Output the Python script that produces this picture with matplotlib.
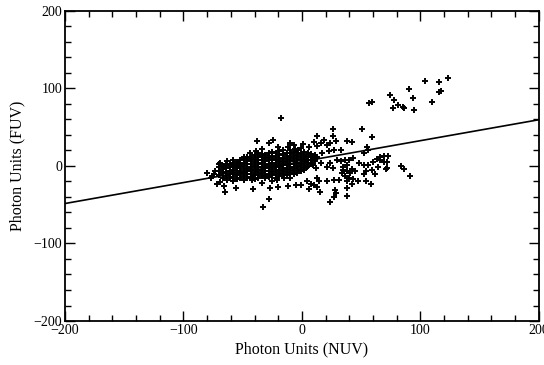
import matplotlib
matplotlib.use("Agg")
import matplotlib.pyplot as plt
from matplotlib.ticker import MultipleLocator
import numpy as np

# Scattered points (NUV, FUV)
outer_pts = [
    (-18, 62),
    (26, 48), (51, 47), (13, 39), (26, 38), (59, 37), (38, 32), (42, 31), (29, 32),
    (24, 30), (19, 34), (10, 31), (16, 29), (13, 26), (21, 27), (1, 28), (6, 25),
    (-1, 23), (-6, 22), (-3, 20), (-10, 29), (-7, 27), (-12, 25), (-20, 25), (-24, 33),
    (-28, 29), (-38, 32), (-34, 22), (-39, 19), (-44, 16), (-37, 17), (-46, 12),
    (55, 25), (56, 21), (52, 17), (33, 21), (27, 21), (23, 19), (17, 17), (13, 12),
    (9, 10), (4, 12),
    (66, 12), (69, 13), (73, 13), (63, 9), (66, 7), (69, 5), (72, 5), (60, 5), (56, 1),
    (52, 1), (48, 4), (64, -1), (71, -4), (59, -5), (54, -7), (62, -10), (52, -10),
    (84, 0), (86, -4), (91, -13), (72, -3),
    (30, 8), (33, 6), (36, 8), (40, 8), (43, 10), (38, 1), (35, -1), (42, -4), (35, -5),
    (38, -7), (34, -9), (41, -9), (45, -7), (36, -13), (40, -16), (43, -17), (38, -20),
    (31, -18), (27, -18), (21, -20), (42, -23), (47, -20), (54, -20), (58, -23),
    (38, -28), (28, -31), (29, -35), (27, -40), (24, -46), (38, -39),
    (13, -16), (14, -20), (10, -25), (13, -27), (15, -34), (4, -20), (8, -23), (-1, -25),
    (-5, -24), (6, -30), (-12, -26), (-20, -27), (-27, -28), (-28, -43), (-33, -53),
    (-41, -30), (-56, -28), (-65, -34), (-34, -22), (-42, -18), (-49, -18), (-58, -19),
    (-63, -18), (-69, -21), (-72, -23), (-74, -11), (-76, -13), (-69, 4), (-63, 6),
    (-58, 1), (-53, 3), (-73, -7), (-77, -15), (-80, -9), (-66, -26),
    (24, 4), (26, -3), (21, -1), (16, 4), (9, 1), (12, -3), (4, -1), (2, -5), (-1, -7),
    (-7, -11), (-10, -16), (-15, -16), (-21, -18), (-25, -20), (-41, -16),
    # upper-right group
    (57, 81), (59, 83), (74, 92), (78, 85), (77, 75), (81, 78), (85, 76), (86, 74),
    (90, 99), (94, 87), (95, 72), (104, 110), (110, 83), (116, 108), (116, 95),
    (117, 96), (123, 113),
]

# Dense core: NUV value -> list of FUV values
core_cols = {
    -70: [-12, -6, -2, 2],
    -67: [-15, -9, -4, 0],
    -64: [-13, -8, -3, 1, 3],
    -61: [-16, -11, -6, -1, 3],
    -58: [-14, -9, -5, -2, 4, 7],
    -55: [-17, -12, -7, -3, 1, 5],
    -52: [-15, -10, -6, -1, 3, 8],
    -49: [-13, -9, -4, 0, 4, 9, 11],
    -46: [-16, -11, -7, -3, 2, 6, 10],
    -43: [-14, -10, -5, -1, 3, 7, 12],
    -40: [-17, -12, -8, -4, 0, 5, 9, 14],
    -37: [-15, -11, -6, -2, 3, 7, 11],
    -34: [-13, -9, -5, -1, 4, 8, 13, 15],
    -31: [-16, -12, -7, -3, 1, 6, 10, 14],
    -28: [-14, -10, -6, -2, 2, 7, 11, 16],
    -25: [-12, -8, -4, 0, 4, 9, 13, 18],
    -22: [-15, -10, -6, -1, 3, 7, 12, 16],
    -19: [-13, -9, -5, 0, 5, 9, 14, 19],
    -16: [-11, -7, -3, 2, 6, 10, 15, 20],
    -13: [-12, -8, -4, 1, 5, 9, 13, 17],
    -10: [-9, -5, -1, 3, 8, 12, 16, 21],
    -7: [-7, -3, 2, 6, 10, 14, 18],
    -4: [-9, -4, 0, 4, 9, 13, 17],
    -1: [-5, -2, 3, 7, 11, 15],
    2: [-3, 1, 5, 9, 14, 18],
    5: [0, 4, 8, 13, 16],
    8: [3, 7, 11, 15],
    11: [6, 9, 14],
}

# Fitted line
fit_slope = 0.27
fit_intercept = 5.5
xlim = (-200, 200)
ylim = (-200, 200)

nuv = [p[0] for p in outer_pts]
fuv = [p[1] for p in outer_pts]
for cx, ys in core_cols.items():
    for cy in ys:
        nuv.append(cx)
        fuv.append(cy)

plt.rcParams['font.family'] = ['Liberation Serif', 'DejaVu Serif']
plt.rcParams['axes.unicode_minus'] = True

fig = plt.figure(figsize=(5.44, 3.65), dpi=100)
ax = fig.add_axes([0.1195, 0.1205, 0.871, 0.850])

ax.plot(nuv, fuv, linestyle='none', marker='+', color='black', markersize=4.5, markeredgewidth=1.4)
lx = np.array(xlim, dtype=float)
ax.plot(lx, fit_slope * lx + fit_intercept, color='black', linewidth=1.2)

ax.set_xlim(*xlim)
ax.set_ylim(*ylim)
ax.xaxis.set_major_locator(MultipleLocator(100))
ax.xaxis.set_minor_locator(MultipleLocator(20))
ax.yaxis.set_major_locator(MultipleLocator(100))
ax.yaxis.set_minor_locator(MultipleLocator(20))
ax.tick_params(which='both', direction='in', top=True, right=True, labelsize=10, width=1.0, color='black')
ax.tick_params(which='major', length=7, pad=2)
ax.tick_params(which='minor', length=4)
for s in ax.spines.values():
    s.set_linewidth(1.3)

ax.set_xlabel('Photon Units (NUV)', fontsize=11.5, labelpad=3)
ax.set_ylabel('Photon Units (FUV)', fontsize=11.5, labelpad=6)

fig.savefig('out.png', dpi=100)
